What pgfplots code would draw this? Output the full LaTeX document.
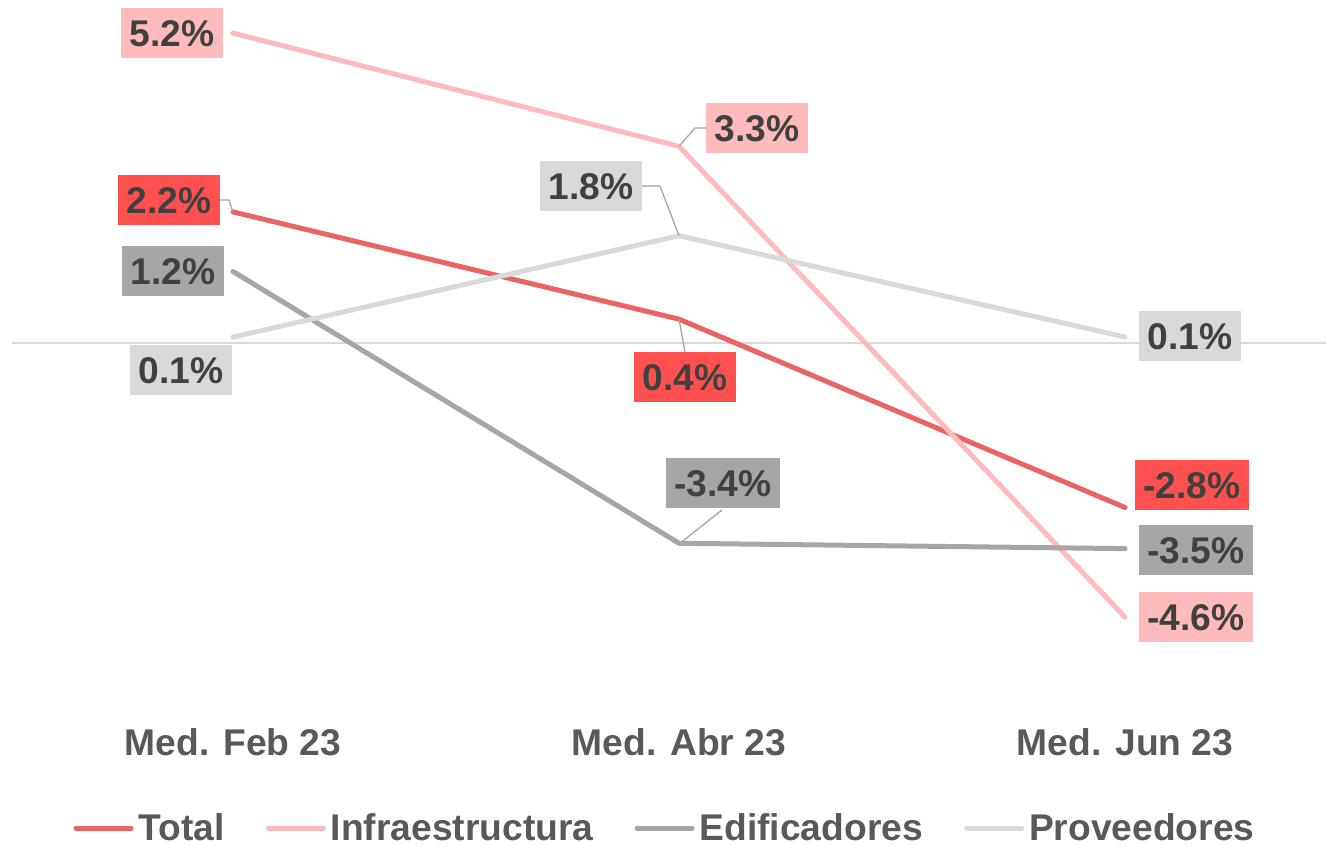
\documentclass[border=0pt]{standalone}
\usepackage{pgfplots}
\pgfplotsset{compat=1.18}
\usepackage{fontspec}
\setmainfont{Liberation Sans}
\definecolor{cTot}{HTML}{EA6464}
\definecolor{cTotL}{HTML}{FF5050}
\definecolor{cInf}{HTML}{FFBBBB}
\definecolor{cEdi}{HTML}{A6A6A6}
\definecolor{cPro}{HTML}{D9D9D9}
\definecolor{txtL}{HTML}{404040}
\definecolor{txtA}{HTML}{595959}
\definecolor{lead}{HTML}{A0A0A0}
\begin{document}
\begin{tikzpicture}[font=\fontsize{18.6bp}{22bp}\selectfont\bfseries,
  lab/.style={text=txtL, inner xsep=4.1bp, inner ysep=6bp, text height=13.4bp, text depth=0bp, anchor=center}]
\begin{axis}[
  x=223bp, y=29.8bp,
  xmin=-0.4955, xmax=2.4507, ymin=-6.695, ymax=5.6,
  axis line style={draw=none}, major tick length=0pt,
  ytick=\empty, xtick={0,1,2},
  xticklabels={Med. Feb 23, Med. Abr 23, Med. Jun 23},
  xticklabel style={text=txtA, anchor=center, inner sep=0pt},
  clip=false,
  legend columns=4,
  legend style={draw=none, fill=none, at={(axis cs:0.9664,-8.138)}, anchor=center,
    text=txtA, inner sep=0pt, nodes={inner sep=0pt},
    /tikz/every odd column/.append style={column sep=2.5bp},
    /tikz/every even column/.append style={column sep=20.6bp}},
  legend image code/.code={\draw[#1, line width=2.5bp, line cap=round] (0bp,0bp) -- (27.5bp,0bp);},
  every axis plot/.append style={line width=2.5bp, line cap=round, line join=round},
]
\draw[cPro, line width=0.75bp] (axis cs:-0.4955,0) -- (axis cs:2.4507,0);
\addplot[cTot] coordinates {(0,2.2) (1,0.4) (2,-2.76)};
\addlegendentry{Total}
\addplot[cInf] coordinates {(0,5.2) (1,3.3) (2,-4.6)};
\addlegendentry{Infraestructura}
\addplot[cEdi] coordinates {(0,1.2) (1,-3.36) (2,-3.45)};
\addlegendentry{Edificadores}
\addplot[cPro] coordinates {(0,0.1) (1,1.8) (2,0.1)};
\addlegendentry{Proveedores}
% leader lines
\draw[lead, line width=0.6bp] (axis cs:0,2.2) -- (axis cs:-0.009,2.399) -- (axis cs:-0.029,2.399);
\draw[lead, line width=0.6bp] (axis cs:1,3.3) -- (axis cs:1.0359,3.607) -- (axis cs:1.0605,3.607);
\draw[lead, line width=0.6bp] (axis cs:1,1.8) -- (axis cs:0.9574,2.634) -- (axis cs:0.9148,2.634);
\draw[lead, line width=0.6bp] (axis cs:1,0.4) -- (axis cs:1.0135,-0.151);
\draw[lead, line width=0.6bp] (axis cs:1.007,-3.33) -- (axis cs:1.0964,-2.802);
% data labels
\node[lab, fill=cInf] at (axis cs:-0.1368,5.201) {5.2\%};
\node[lab, fill=cInf] at (axis cs:1.1749,3.607) {3.3\%};
\node[lab, fill=cInf] at (axis cs:2.1592,-4.597) {-4.6\%};
\node[lab, fill=cTotL] at (axis cs:-0.1435,2.399) {2.2\%};
\node[lab, fill=cTotL] at (axis cs:1.0135,-0.570) {0.4\%};
\node[lab, fill=cTotL] at (axis cs:2.1502,-2.383) {-2.8\%};
\node[lab, fill=cEdi] at (axis cs:-0.1345,1.208) {1.2\%};
\node[lab, fill=cEdi] at (axis cs:1.0987,-2.349) {-3.4\%};
\node[lab, fill=cEdi] at (axis cs:2.1592,-3.473) {-3.5\%};
\node[lab, fill=cPro] at (axis cs:-0.1166,-0.453) {0.1\%};
\node[lab, fill=cPro] at (axis cs:0.8027,2.634) {1.8\%};
\node[lab, fill=cPro] at (axis cs:2.1457,0.117) {0.1\%};
\coordinate (bbA) at (axis cs:-0.5224,5.755);
\coordinate (bbB) at (axis cs:2.4507,-8.423);
\end{axis}
\pgfresetboundingbox
\path[use as bounding box] (bbA) rectangle (bbB);
\end{tikzpicture}
\end{document}
